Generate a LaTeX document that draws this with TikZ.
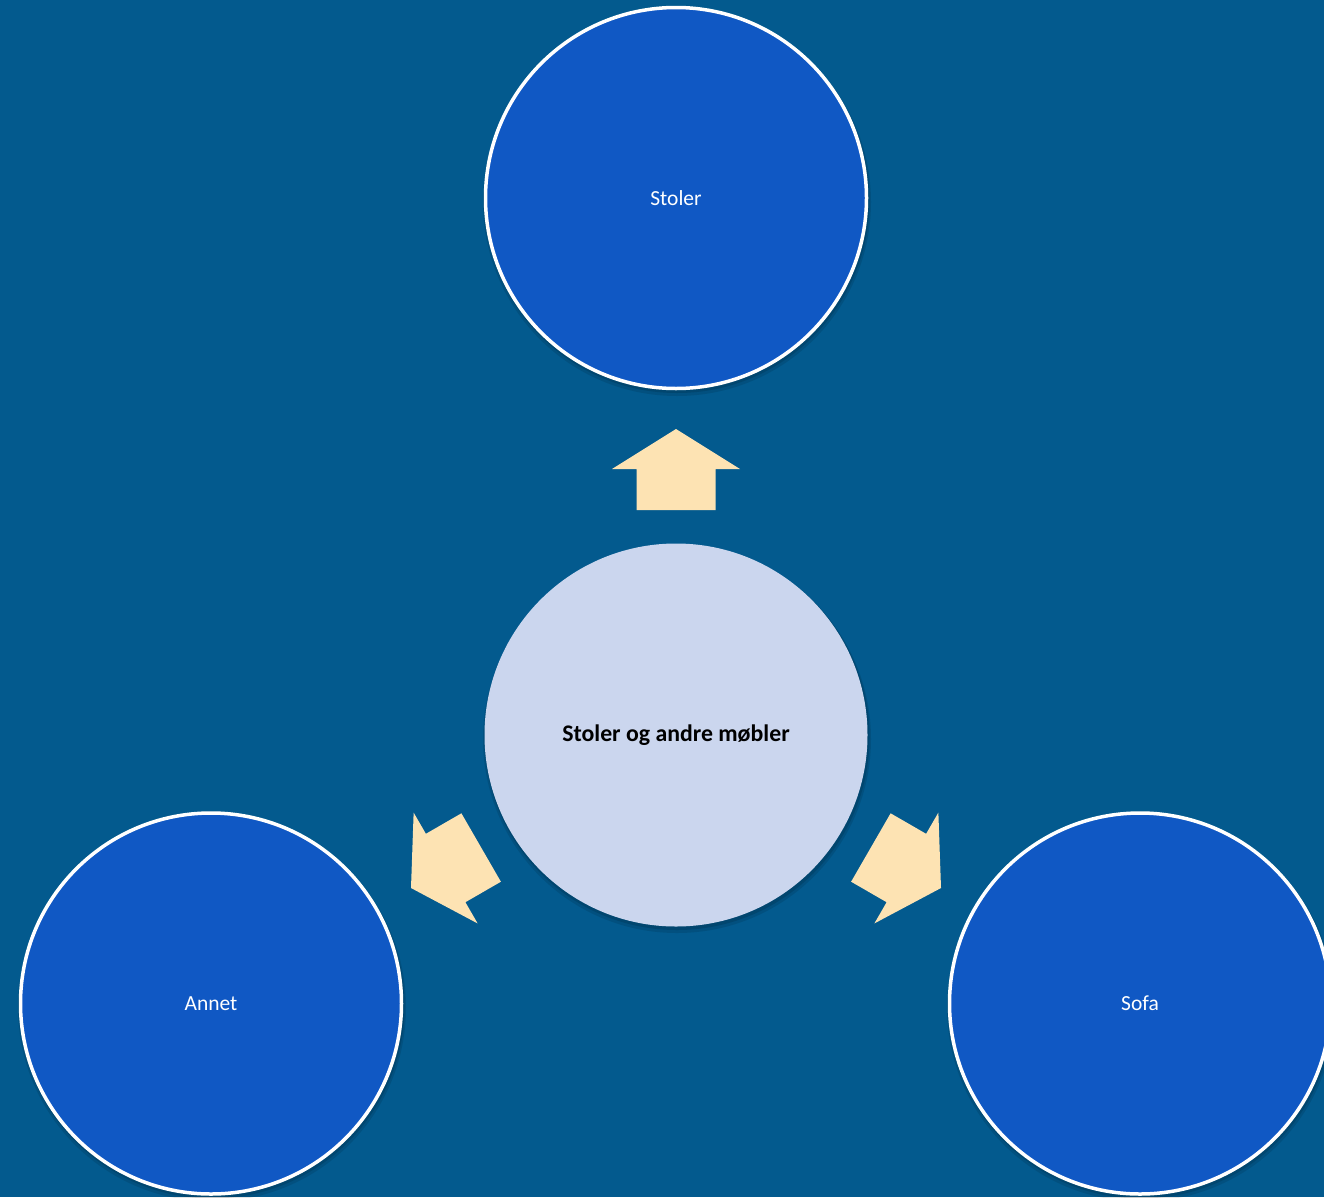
\documentclass[tikz,border=0pt]{standalone}
\usepackage{fontspec}
\setmainfont{Carlito}
\definecolor{bgblue}{HTML}{035A8E}
\definecolor{outerfill}{HTML}{1058C4}
\definecolor{centerfill}{HTML}{CBD6EE}
\definecolor{arrowfill}{HTML}{FDE3B3}
\begin{document}
\begin{tikzpicture}[x=1pt,y=-1pt,
  outercircle/.style={circle, minimum size=381pt, inner sep=0pt, fill=outerfill, draw=white, line width=3.5pt, text=white, font=\fontsize{21.5}{26}\selectfont},
  centercircle/.style={circle, minimum size=383pt, inner sep=0pt, fill=centerfill, text=black, font=\bfseries\fontsize{23.8}{28}\selectfont},
  blockarrow/.style={fill=arrowfill},
  shade1/.style={fill=black, opacity=0.10},
  shade2/.style={fill=black, opacity=0.12}]
\useasboundingbox (0,0) rectangle (1324,1197);
\fill[bgblue] (0,0) rectangle (1324,1197);
\clip (0,0) rectangle (1324,1197);
% shadows
\foreach \p in {(676,735),(676,198),(211,1003.5),(1140,1003.5)} {
  \fill[shade1] \p ++(1,4) circle (194);
  \fill[shade2] \p ++(1,2.5) circle (192.5);
}
\node[centercircle] (c) at (676,735) {Stoler og andre møbler};
\node[outercircle] (s) at (676,198) {Stoler};
\node[outercircle] (a) at (211,1003.5) {Annet};
\node[outercircle] (f) at (1140,1003.5) {Sofa};
\foreach \ang in {0,120,-120} {
  \fill[blockarrow, shift={(c.center)}, rotate=\ang]
    (0,-306) -- (64,-266) -- (39.5,-266) -- (39.5,-225) -- (-39.5,-225) -- (-39.5,-266) -- (-64,-266) -- cycle;
}
\end{tikzpicture}
\end{document}
